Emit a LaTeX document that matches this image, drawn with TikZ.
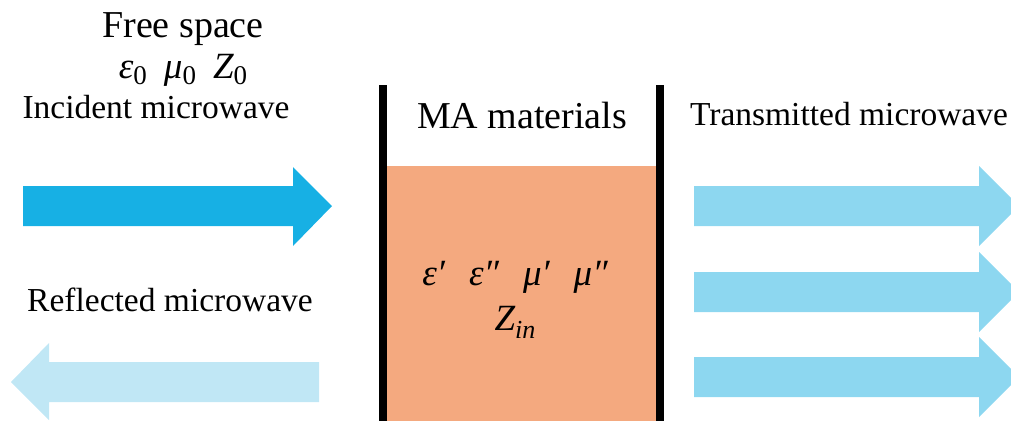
\documentclass[tikz,border=0pt]{standalone}
\usepackage{fontspec}
\setmainfont{Liberation Serif}
\definecolor{incblue}{RGB}{23,176,228}
\definecolor{trblue}{RGB}{141,215,240}
\definecolor{refblue}{RGB}{192,231,245}
\definecolor{maorange}{RGB}{244,169,127}
\newcommand{\sbs}[1]{\raisebox{-6pt}{\fontsize{27}{27}\selectfont\upshape #1}}
\newcommand{\sbi}[1]{\raisebox{-8pt}{\fontsize{26}{26}\selectfont\itshape #1}}
\begin{document}
\begin{tikzpicture}[x=1pt,y=-1pt,
  lbl/.style={anchor=base,inner sep=0pt,font=\fontsize{33.5}{40}\selectfont},
  ttl/.style={anchor=base,inner sep=0pt,font=\fontsize{38}{44}\selectfont},
  mth/.style={anchor=base,inner sep=0pt,font=\fontsize{37}{40}\selectfont\itshape},
  wall/.style={fill=black},
]
\useasboundingbox (0,0) rectangle (1011,421);
\clip (0,0) rectangle (1011,421);
% material
\fill[maorange] (387,166) rectangle (656,421);
\fill[wall] (379,85) rectangle (387,421);
\fill[wall] (656,85) rectangle (664,421);
% incident arrow
\fill[incblue] (23,186) -- (293,186) -- (293,167) -- (332,206) -- (293,246) -- (293,226) -- (23,226) -- cycle;
% reflected arrow
\fill[refblue] (319,362) -- (49,362) -- (49,343) -- (11,382) -- (49,420) -- (49,402) -- (319,402) -- cycle;
% transmitted arrows
\foreach \y in {206,292,377}{
  \fill[trblue] (694,\y-20) -- (979,\y-20) -- (979,\y-40) -- (1019,\y) -- (979,\y+40) -- (979,\y+20) -- (694,\y+20) -- cycle;
}
% labels
\node[ttl] (fs) at (183,37) {Free space};
\node[mth] (fsp) at (183,78) {ε\sbs{0}\hspace{17pt}μ\sbs{0}\hspace{17pt}Z\sbs{0}};
\node[lbl] (inc) at (156,118) {Incident microwave};
\node[ttl] (ma) at (522,128) {MA materials};
\node[lbl] (tr) at (849,125) {Transmitted microwave};
\node[lbl] (ref) at (170,311) {Reflected microwave};
\node[mth] (mp) at (515,285) {ε′\hspace{24pt}ε″\hspace{24pt}μ′\hspace{24pt}μ″};
\node[mth] (zin) at (515,330) {Z\sbi{in}};
\end{tikzpicture}
\end{document}
